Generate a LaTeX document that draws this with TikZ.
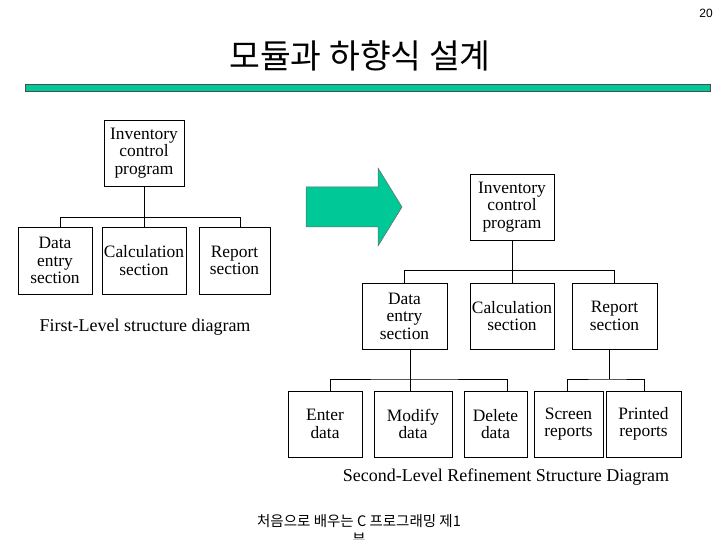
\documentclass[tikz,border=0pt]{standalone}
\usepackage{fontspec}
\setmainfont{Liberation Serif}
\newfontfamily\krfont{Noto Sans CJK KR}
\newfontfamily\numfont{Liberation Sans}
\definecolor{slidegreen}{RGB}{0,200,150}
\begin{document}
\begin{tikzpicture}[x=1pt,y=-1pt,
  box/.style={draw=black,line width=0.8pt,inner sep=0pt,align=center,
    minimum height=66pt,font=\fontsize{17.4}{17.6}\selectfont},
  link/.style={draw=black,line width=0.8pt},
  lbl/.style={inner sep=0pt,font=\fontsize{18}{20}\selectfont}]
\useasboundingbox (0,0) rectangle (720,540);
% page number, title, bar
\node[inner sep=0pt,font=\numfont\fontsize{12}{14}\selectfont] (pg) at (706,13) {20};
\node[inner sep=0pt,font=\krfont\fontsize{33.5}{36}\selectfont] (title) at (360,56) {모듈과 하향식 설계};
\fill[slidegreen,draw=black!70,line width=0.6pt] (25,84) rectangle (710,91);
% left tree
\node[box,minimum width=80pt] (L0) at (144,153) {Inventory\\control\\program};
\node[box,minimum width=74pt,minimum height=67pt] (L1) at (55,260.5) {Data\\entry\\section};
\node[box,minimum width=84pt,minimum height=67pt] (L2) at (144,260.5) {Calculation\\section};
\node[box,minimum width=71pt,minimum height=67pt] (L3) at (234.5,260.5) {Report\\section};
\draw[link] (L0.south) -- (L2.north);
\draw[link] ([xshift=5.5pt]L1.north) |- ([xshift=6pt]L3.north |- 0,217) -- ([xshift=6pt]L3.north);
\node[lbl] (cap1) at (145,327) {First-Level structure diagram};
% arrow
\fill[slidegreen,draw=black!60,line width=0.5pt]
  (306,187) -- (378,187) -- (378,168) -- (402,207) -- (378,246) -- (378,227) -- (306,227) -- cycle;
% right tree
\node[box,minimum width=84pt] (R0) at (512,207) {Inventory\\control\\program};
\node[box,minimum width=85pt] (R1) at (404.5,316) {Data\\entry\\section};
\node[box,minimum width=84pt] (R2) at (512,316) {Calculation\\section};
\node[box,minimum width=85pt] (R3) at (614.5,316) {Report\\section};
\draw[link] (R0.south) -- (R2.north);
\draw[link] (R1.north) |- (R3.north |- 0,270) -- (R3.north);
% third row
\node[box,minimum width=74pt] (E1) at (325,424) {Enter\\data};
\node[box,minimum width=78pt] (E2) at (413,424) {Modify\\data};
\node[box,minimum width=63pt] (E3) at (495.5,424) {Delete\\data};
\node[box,minimum width=69pt] (E4) at (568.5,424) {Screen\\reports};
\node[box,minimum width=75pt] (E5) at (643.5,424) {Printed\\reports};
\draw[link] ([xshift=5.5pt]R1.south) -- ([xshift=5.5pt]R1.south |- 0,379) coordinate (b1);
\draw[link] ([xshift=5pt]E1.north) |- (b1) -| ([xshift=11.5pt]E3.north);
\draw[link] (b1) -- ([xshift=-3pt]E2.north);
\draw[link] ([xshift=-5.5pt]R3.south) -- ([xshift=-5.5pt]R3.south |- 0,379) coordinate (b2);
\draw[link] ([xshift=-1.5pt]E4.north) |- (b2) -| ([xshift=0.5pt]E5.north);
\node[lbl] (cap2) at (506,477) {Second-Level Refinement Structure Diagram};
% footer
\node[inner sep=0pt,align=center,anchor=north,font=\krfont\fontsize{14.5}{18.5}\selectfont] (foot) at (359,514) {처음으로 배우는 C 프로그래밍 제1\\부};
\end{tikzpicture}
\end{document}
